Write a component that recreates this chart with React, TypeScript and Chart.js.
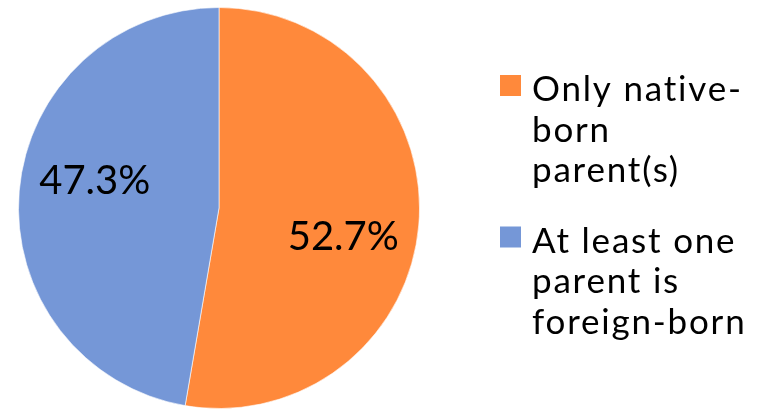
import { useEffect, useRef } from "react";
import { Chart, registerables } from "chart.js";

Chart.register(...registerables);

const categories = ["Only native-born parent(s)", "At least one parent is foreign-born"];
const legendLines = [
  ["Only native-", "born", "parent(s)"],
  ["At least one", "parent is", "foreign-born"],
];
const shares = [52.7, 47.3];
const colors = ["rgb(255, 137, 59)", "rgb(117, 151, 215)"];

const FONT = "Lato, 'Open Sans', sans-serif";

// draws "52.7%" etc inside each slice
const sliceLabels = {
  id: "sliceLabels",
  afterDatasetsDraw(chart: Chart) {
    const ctx = chart.ctx;
    const meta = chart.getDatasetMeta(0);
    const values = chart.data.datasets[0].data as number[];
    ctx.save();
    ctx.font = `40px ${FONT}`;
    ctx.fillStyle = "#000";
    ctx.textAlign = "center";
    ctx.textBaseline = "middle";
    meta.data.forEach((el: any, i: number) => {
      const { startAngle, endAngle, x, y, outerRadius } = el.getProps(
        ["startAngle", "endAngle", "x", "y", "outerRadius"],
        true
      );
      const mid = (startAngle + endAngle) / 2 + 0.136;
      const r = outerRadius * 0.635;
      ctx.fillText(`${values[i].toFixed(1)}%`, x + Math.cos(mid) * r, y + Math.sin(mid) * r + 1);
    });
    ctx.restore();
  },
};

// legend with wrapped lines, drawn on the right
const wrappedLegend = {
  id: "wrappedLegend",
  afterDraw(chart: Chart) {
    const ctx = chart.ctx as any;
    const boxX = 500;
    const textX = 532;
    const lineHeight = 40.5;
    const itemGap = 30;
    let baseline = 101;
    ctx.save();
    ctx.font = `35px ${FONT}`;
    ctx.letterSpacing = "1.8px";
    ctx.textAlign = "left";
    ctx.textBaseline = "alphabetic";
    legendLines.forEach((lines, i) => {
      ctx.fillStyle = colors[i];
      ctx.fillRect(boxX, baseline - 26, 21, 21);
      ctx.fillStyle = "#000";
      lines.forEach((line, j) => {
        ctx.fillText(line, textX, baseline + j * lineHeight);
      });
      baseline += lines.length * lineHeight + itemGap;
    });
    ctx.restore();
  },
};

export default function App() {
  const chartRef = useRef<HTMLCanvasElement>(null);
  const chartInstance = useRef<Chart | null>(null);

  useEffect(() => {
    document.body.style.margin = "0";
    if (!chartRef.current) return;
    const ctx = chartRef.current.getContext("2d");
    if (!ctx) return;

    chartInstance.current = new Chart(ctx, {
      type: "pie",
      data: {
        labels: categories,
        datasets: [
          {
            data: shares,
            backgroundColor: colors,
            borderColor: "rgba(255, 255, 255, 0.6)",
            borderWidth: 1,
          },
        ],
      },
      options: {
        responsive: true,
        maintainAspectRatio: false,
        animation: false,
        layout: {
          padding: { top: 7, bottom: 0, left: 18, right: 339 },
        },
        plugins: {
          legend: { display: false },
          tooltip: { enabled: false },
        },
      },
      plugins: [sliceLabels, wrappedLegend],
    });

    return () => {
      if (chartInstance.current) {
        chartInstance.current.destroy();
        chartInstance.current = null;
      }
    };
  }, []);

  return (
    <div style={{ width: 759, height: 409, position: "relative", background: "#fff" }}>
      <canvas ref={chartRef}></canvas>
    </div>
  );
}
